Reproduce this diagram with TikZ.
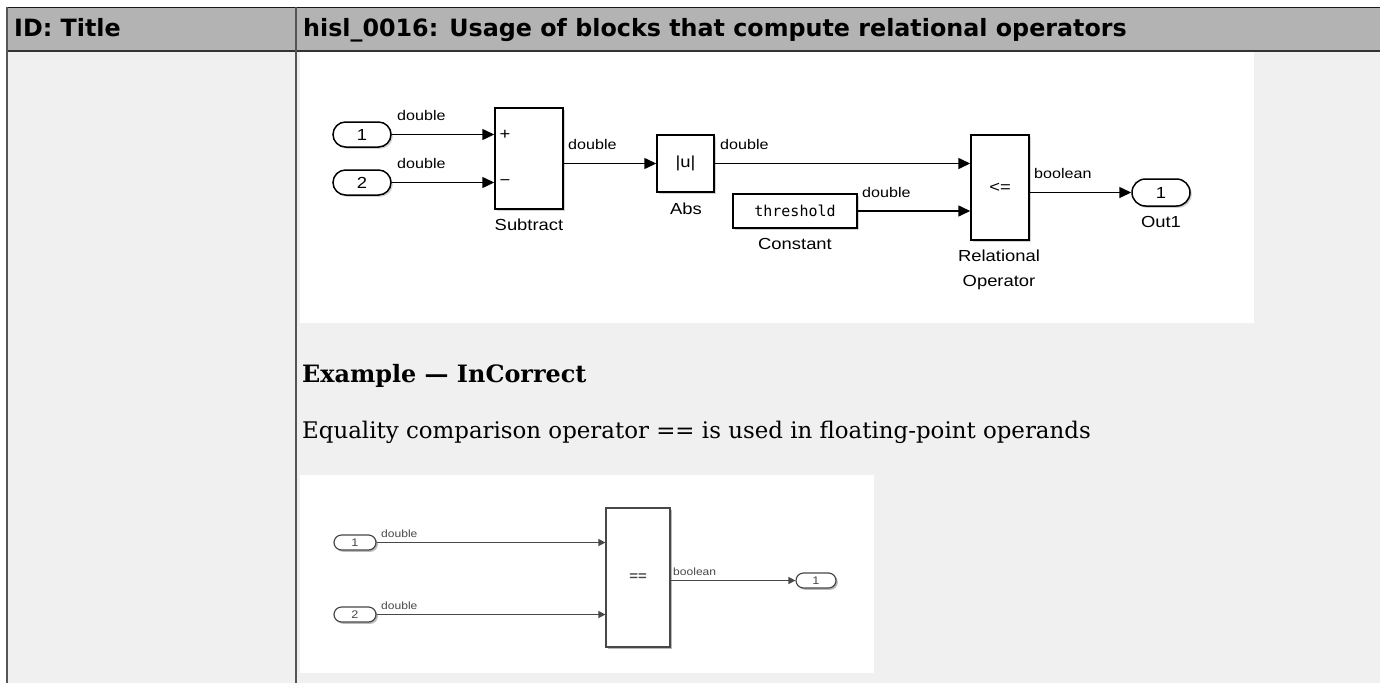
\documentclass[tikz,border=0pt]{standalone}
\usepackage{fontspec}
\setmainfont{DejaVu Serif}
\newfontfamily\hdrfont{DejaVu Sans}
\newfontfamily\simfont[FakeStretch=1.15]{Liberation Sans}
\newfontfamily\thrfont{DejaVu Sans Mono}
\usetikzlibrary{arrows.meta,shadows,shapes.misc}
\definecolor{hdrgray}{HTML}{B3B3B3}
\definecolor{bodygray}{HTML}{F0F0F0}
\definecolor{rulegray}{HTML}{555555}
\definecolor{lgray}{HTML}{484848}
\tikzset{
  sig/.style={line width=1.5pt, -{Triangle[length=12pt,width=11pt]}},
  sigs/.style={line width=1.3pt, draw=lgray, -{Triangle[length=7pt,width=7pt]}},
  blk/.style={draw, line width=1.5pt, fill=white, inner sep=0pt, rectangle,
     font=\simfont\fontsize{16}{16}\selectfont,
     drop shadow={shadow xshift=1.8pt, shadow yshift=-1.8pt, opacity=0.35}},
  port/.style={blk, rounded rectangle},
  blks/.style={blk, draw=lgray, line width=1.2pt, text=lgray, font=\simfont\fontsize{11}{11}\selectfont,
     drop shadow={shadow xshift=1.8pt, shadow yshift=-1.8pt, opacity=0.3}},
  ports/.style={blks, rounded rectangle},
  lab/.style={font=\simfont\fontsize{14}{14}\selectfont, inner sep=0pt, anchor=base west},
  labs/.style={font=\simfont\fontsize{10.5}{10.5}\selectfont, text=lgray, inner sep=0pt, anchor=base west},
  bname/.style={font=\simfont\fontsize{16}{16}\selectfont, inner sep=0pt, anchor=base},
  hdr/.style={font=\hdrfont\bfseries\fontsize{23.8}{23.8}\selectfont, inner sep=0pt, anchor=base west},
  body/.style={font=\fontsize{22.9}{22.9}\selectfont, inner sep=0pt, anchor=base west},
}
\begin{document}
\begin{tikzpicture}[x=1pt,y=-1pt]
\useasboundingbox (0,0) rectangle (1380,683);
\fill[white] (0,0) rectangle (1380,683);
\fill[bodygray] (7,52) rectangle (1380,683);
\fill[hdrgray] (7,8) rectangle (1380,51);
\fill[white] (300,52) rectangle (1254,323);
\fill[white] (300,475) rectangle (874,673);
\draw[line width=1.8pt, black!90] (6,7.5) -- (1380,7.5);
\draw[line width=1.8pt, black!80] (6,51) -- (1380,51);
\draw[line width=2pt, rulegray] (7,7) -- (7,683);
\draw[line width=2pt, rulegray] (296,7) -- (296,683);
\node[hdr] (h1) at (14,36) {ID: Title};
\node[hdr] (h2) at (303,36) {hisl\_0016: Usage of blocks that compute relational operators};

% top diagram
\node[port, minimum width=58pt, minimum height=25pt] (in1) at (362,134.5) {1};
\node[port, minimum width=58pt, minimum height=25pt] (in2) at (362,182.5) {2};
\node[blk, minimum width=68pt, minimum height=101pt] (sub) at (529,158.5) {};
\node[font=\simfont\fontsize{16}{16}\selectfont, inner sep=0pt] (plus) at (505,134.5) {+};
\node[font=\simfont\fontsize{16}{16}\selectfont, inner sep=0pt] (minus) at (505,182.5) {−};
\node[blk, minimum width=57pt, minimum height=57pt] (abs) at (685.5,163.5) {|u|};
\node[blk, minimum width=124pt, minimum height=34pt, font=\thrfont\fontsize{15}{15}\selectfont] (con) at (795,211) {threshold};
\node[blk, minimum width=58pt, minimum height=105pt] (rel) at (1000,187.5) {<=};
\node[port, minimum width=58pt, minimum height=27pt] (out) at (1161,192.5) {1};

\draw[sig] (in1.east) -- (in1.east -| sub.west);
\draw[sig] (in2.east) -- (in2.east -| sub.west);
\draw[sig] (sub.east |- abs.west) -- (abs.west);
\draw[sig] (abs.east) -- (abs.east -| rel.west);
\draw[sig] (con.east) -- (con.east -| rel.west);
\draw[sig] (rel.east |- out.west) -- (out.west);

\node[lab] (d1) at (397,120) {double};
\node[lab] (d2) at (397,168) {double};
\node[lab] (d3) at (568,149) {double};
\node[lab] (d4) at (720,149) {double};
\node[lab] (d5) at (862,197) {double};
\node[lab] (bo) at (1034,178) {boolean};
\node[bname] (nsub) at (529,230) {Subtract};
\node[bname] (nabs) at (686,214) {Abs};
\node[bname] (ncon) at (795,249) {Constant};
\node[bname] (nrel1) at (999,261) {Relational};
\node[bname] (nrel2) at (999,286) {Operator};
\node[bname] (nout) at (1161,227) {Out1};

% texts
\node[body, font=\bfseries\fontsize{23.9}{23.9}\selectfont] (ex) at (302,382) {Example — InCorrect};
\node[body] (eqt) at (302,438) {Equality comparison operator == is used in floating-point operands};

% bottom diagram
\node[ports, minimum width=42pt, minimum height=15pt] (bin1) at (355,542.5) {1};
\node[ports, minimum width=42pt, minimum height=15pt] (bin2) at (355,614.5) {2};
\node[blks, minimum width=64pt, minimum height=139pt, font=\simfont\bfseries\fontsize{13}{13}\selectfont] (beq) at (638,577.5) {==};
\node[ports, minimum width=40pt, minimum height=15pt] (bout) at (816,580.5) {1};
\draw[sigs] (bin1.east) -- (bin1.east -| beq.west);
\draw[sigs] (bin2.east) -- (bin2.east -| beq.west);
\draw[sigs] (beq.east |- bout.west) -- (bout.west);
\node[labs] (bd1) at (381,537) {double};
\node[labs] (bd2) at (381,609) {double};
\node[labs] (bbo) at (673,575) {boolean};
\end{tikzpicture}
\end{document}
